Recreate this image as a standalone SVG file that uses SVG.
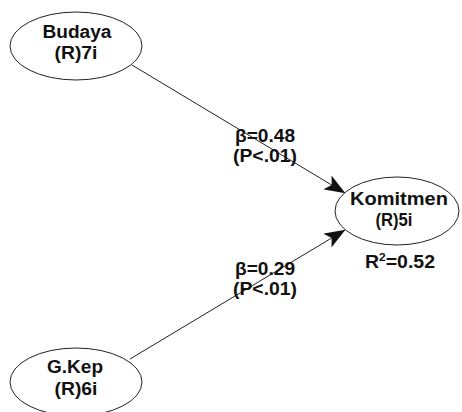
<svg xmlns="http://www.w3.org/2000/svg" width="462" height="412" viewBox="0 0 462 412">
<defs>
<style>
.node ellipse{fill:#ffffff;stroke:#222222;stroke-width:1}
text{font-family:"Liberation Sans",Arial,sans-serif;font-weight:bold;font-size:18px;fill:#111111;text-anchor:middle}
.conn line{stroke:#222222;stroke-width:1;fill:none}
</style>
<marker id="arr" viewBox="0 0 21 16" markerWidth="21" markerHeight="16" refX="20.5" refY="8" orient="auto" markerUnits="userSpaceOnUse">
<path d="M0,0 L21,8 L0,16 L5,8 Z" fill="#111111"/>
</marker>
</defs>
<rect width="462" height="412" fill="#ffffff"/>
<g id="connectors" class="conn">
<line x1="132" y1="65" x2="345" y2="193" marker-end="url(#arr)"/>
<line x1="130" y1="359" x2="345" y2="230" marker-end="url(#arr)"/>
</g>
<g id="node-budaya" class="node">
<ellipse cx="76" cy="46" rx="66" ry="34"/>
<text x="77" y="38" textLength="69" lengthAdjust="spacingAndGlyphs">Budaya</text>
<text x="76" y="59" textLength="43" lengthAdjust="spacingAndGlyphs">(R)7i</text>
</g>
<g id="node-komitmen" class="node">
<ellipse cx="397" cy="211" rx="62" ry="34"/>
<text x="399" y="205" textLength="98" lengthAdjust="spacingAndGlyphs">Komitmen</text>
<text x="394" y="226" textLength="37" lengthAdjust="spacingAndGlyphs">(R)5i</text>
<text x="400" y="268" textLength="70" lengthAdjust="spacingAndGlyphs">R<tspan dy="-7" font-size="11">2</tspan><tspan dy="7">=0.52</tspan></text>
</g>
<g id="node-gkep" class="node">
<ellipse cx="76" cy="382" rx="66" ry="34"/>
<text x="75" y="373" textLength="56" lengthAdjust="spacingAndGlyphs">G.Kep</text>
<text x="76" y="395" textLength="43" lengthAdjust="spacingAndGlyphs">(R)6i</text>
</g>
<g id="labels">
<text x="265" y="142" textLength="60" lengthAdjust="spacingAndGlyphs">β=0.48</text>
<text x="265" y="162" textLength="64" lengthAdjust="spacingAndGlyphs">(P&lt;.01)</text>
<text x="265" y="275" textLength="60" lengthAdjust="spacingAndGlyphs">β=0.29</text>
<text x="265" y="295" textLength="64" lengthAdjust="spacingAndGlyphs">(P&lt;.01)</text>
</g>
</svg>
